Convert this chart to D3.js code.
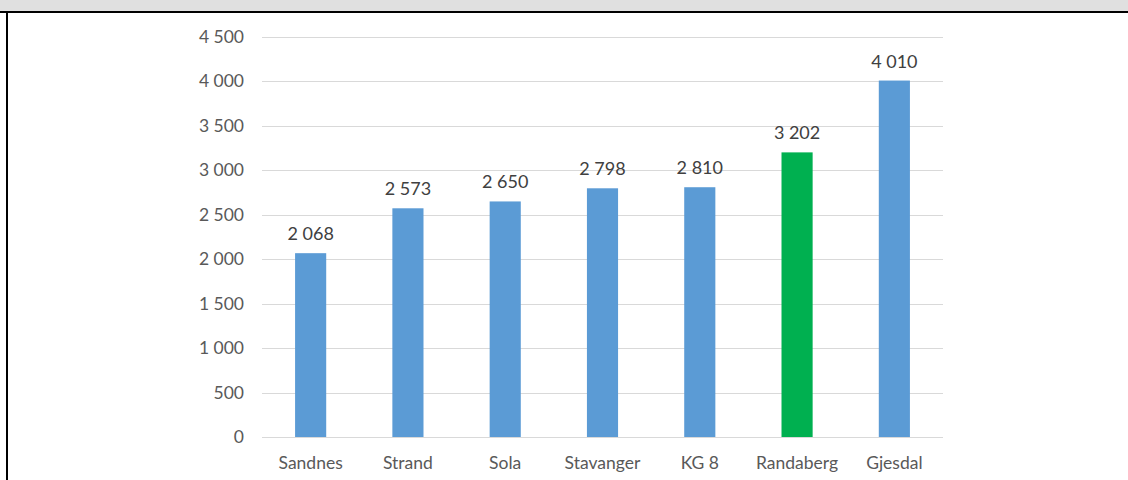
<!DOCTYPE html>
<html><head><meta charset="utf-8">
<script src="https://cdn.jsdelivr.net/npm/d3@7"></script>
<style>body{margin:0;background:#fff;}svg{display:block;}</style>
</head><body>
<script>
const categories = ["Sandnes","Strand","Sola","Stavanger","KG 8","Randaberg","Gjesdal"];
const values = [2068, 2573, 2650, 2798, 2810, 3202, 4010];
const valueLabels = ["2 068","2 573","2 650","2 798","2 810","3 202","4 010"];
const highlight = ["Randaberg"];
const tickValues = [0,500,1000,1500,2000,2500,3000,3500,4000,4500];
const tickLabels = ["0","500","1 000","1 500","2 000","2 500","3 000","3 500","4 000","4 500"];

const W = 1128, H = 480;
const svg = d3.select("body").append("svg").attr("width", W).attr("height", H);
const font = "Lato, 'Open Sans', sans-serif";

svg.append("rect").attr("x",0).attr("y",0).attr("width",W).attr("height",11).attr("fill","#e0e0e0");
svg.append("rect").attr("x",0).attr("y",11).attr("width",W).attr("height",2).attr("fill","#000");
svg.append("rect").attr("x",6).attr("y",11).attr("width",2).attr("height",H-11).attr("fill","#000");

const x = d3.scaleBand().domain(categories).range([262, 943]).paddingInner(0.68).paddingOuter(0.34);
const y = d3.scaleLinear().domain([0, 4500]).range([437, 37]);

const g = svg.append("g");
g.selectAll("line.grid").data(tickValues).join("line")
  .attr("x1",262).attr("x2",943)
  .attr("y1",d=>Math.round(y(d))+0.5).attr("y2",d=>Math.round(y(d))+0.5)
  .attr("stroke","#d9d9d9").attr("stroke-width",1);

g.selectAll("text.tick").data(tickValues).join("text")
  .attr("x",244).attr("y",d=>y(d)+6)
  .attr("text-anchor","end").attr("font-family",font).attr("font-size",17.5).attr("fill","#595959")
  .text((d,i)=>tickLabels[i]);

g.selectAll("rect.bar").data(categories).join("rect")
  .attr("x",d=>x(d)).attr("width",x.bandwidth())
  .attr("y",(d,i)=>y(values[i])).attr("height",(d,i)=>y(0)-y(values[i]))
  .attr("fill",d=>highlight.includes(d)?"#00b050":"#5b9bd5");

g.selectAll("text.val").data(categories).join("text")
  .attr("x",d=>x(d)+x.bandwidth()/2).attr("y",(d,i)=>y(values[i])-13)
  .attr("text-anchor","middle").attr("font-family",font).attr("font-size",18).attr("fill","#404040")
  .text((d,i)=>valueLabels[i]);

g.selectAll("text.cat").data(categories).join("text")
  .attr("x",d=>x(d)+x.bandwidth()/2).attr("y",469)
  .attr("text-anchor","middle").attr("font-family",font).attr("font-size",17.5).attr("fill","#595959")
  .text(d=>d);
</script>
</body></html>
